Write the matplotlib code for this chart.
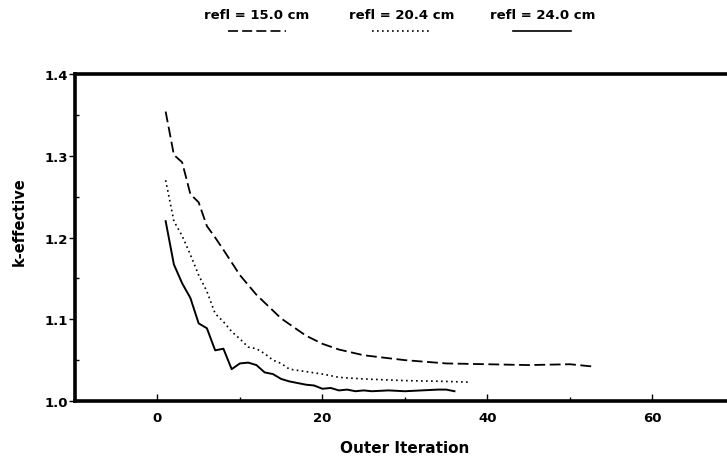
import matplotlib
matplotlib.use("Agg")
import matplotlib.pyplot as plt
from matplotlib.lines import Line2D
from matplotlib.ticker import MultipleLocator
import numpy as np

# refl = 15.0 cm (dashed)
it_15 = [1, 2, 3, 4, 5, 6, 7, 8, 10, 12, 15, 18, 20, 22, 25, 30, 35, 40, 45, 50, 53]
k_15 = [1.354, 1.301, 1.292, 1.253, 1.243, 1.214, 1.200, 1.185, 1.154, 1.130,
        1.101, 1.080, 1.070, 1.063, 1.056, 1.050, 1.046, 1.045, 1.044, 1.045, 1.042]

# refl = 20.4 cm (dotted)
it_20 = [1, 2, 3, 4, 5, 6, 7, 8, 9, 10, 11, 12, 13, 14, 15, 16, 18, 20, 22, 25, 30, 35, 38]
k_20 = [1.270, 1.220, 1.202, 1.179, 1.154, 1.134, 1.107, 1.097, 1.085, 1.076, 1.066,
        1.064, 1.058, 1.050, 1.046, 1.039, 1.036, 1.033, 1.029, 1.027, 1.025, 1.024, 1.023]

# refl = 24.0 cm (solid)
it_24 = [1, 2, 3, 4, 5, 6, 7, 8, 9, 10, 11, 12, 13, 14, 15, 16, 17, 18, 19, 20,
         21, 22, 23, 24, 25, 26, 28, 30, 32, 34, 35, 36]
k_24 = [1.220, 1.167, 1.144, 1.126, 1.095, 1.089, 1.062, 1.064, 1.039, 1.046, 1.047,
        1.044, 1.035, 1.033, 1.027, 1.024, 1.022, 1.020, 1.019, 1.015, 1.016, 1.013,
        1.014, 1.012, 1.013, 1.012, 1.013, 1.012, 1.013, 1.014, 1.014, 1.012]

labels = ["refl = 15.0 cm", "refl = 20.4 cm", "refl = 24.0 cm"]
styles = [(0, (6, 2.5)), (0, (1, 2)), "-"]

plt.rcParams["font.family"] = "DejaVu Sans"
plt.rcParams["font.weight"] = "bold"

fig = plt.figure(figsize=(7.27, 4.60), dpi=100)
ax = fig.add_axes([0.103, 0.126, 0.908, 0.711])

ax.plot(it_15, k_15, color="black", lw=1.3, ls=styles[0])
ax.plot(it_20, k_20, color="black", lw=1.2, ls=styles[1])
ax.plot(it_24, k_24, color="black", lw=1.4, ls=styles[2])

ax.set_xlim(-10, 70)
ax.set_ylim(1.0, 1.4)
ax.xaxis.set_major_locator(MultipleLocator(20))
ax.xaxis.set_minor_locator(MultipleLocator(10))
ax.yaxis.set_major_locator(MultipleLocator(0.1))
ax.yaxis.set_minor_locator(MultipleLocator(0.05))
ax.yaxis.set_major_formatter(matplotlib.ticker.FormatStrFormatter("%.1f"))

for s in ["left", "bottom", "top"]:
    ax.spines[s].set_linewidth(2.6)
ax.spines["right"].set_visible(False)

ax.tick_params(axis="x", which="major", direction="in", length=5, width=1, labelsize=9.5, pad=7)
ax.tick_params(axis="x", which="minor", direction="in", length=3, width=1)
ax.tick_params(axis="y", which="major", direction="out", length=4, width=1, labelsize=9.5, pad=1)
ax.tick_params(axis="y", which="minor", direction="in", length=3, width=1)

ax.set_xlabel("Outer Iteration", fontsize=11, fontweight="bold", labelpad=12)
ax.set_ylabel("k-effective", fontsize=10.5, fontweight="bold")
ax.yaxis.set_label_coords(-0.073, 0.553)

# legend: text above line sample
xc = [0.353, 0.552, 0.746]
for x, lab, ls in zip(xc, labels, styles):
    fig.text(x, 0.967, lab, ha="center", va="center", fontsize=9.5, fontweight="bold")
    fig.add_artist(Line2D([x - 0.04, x + 0.04], [0.930, 0.930], color="black",
                          lw=1.2, ls=ls, transform=fig.transFigure))

fig.savefig("out.png", dpi=100)
